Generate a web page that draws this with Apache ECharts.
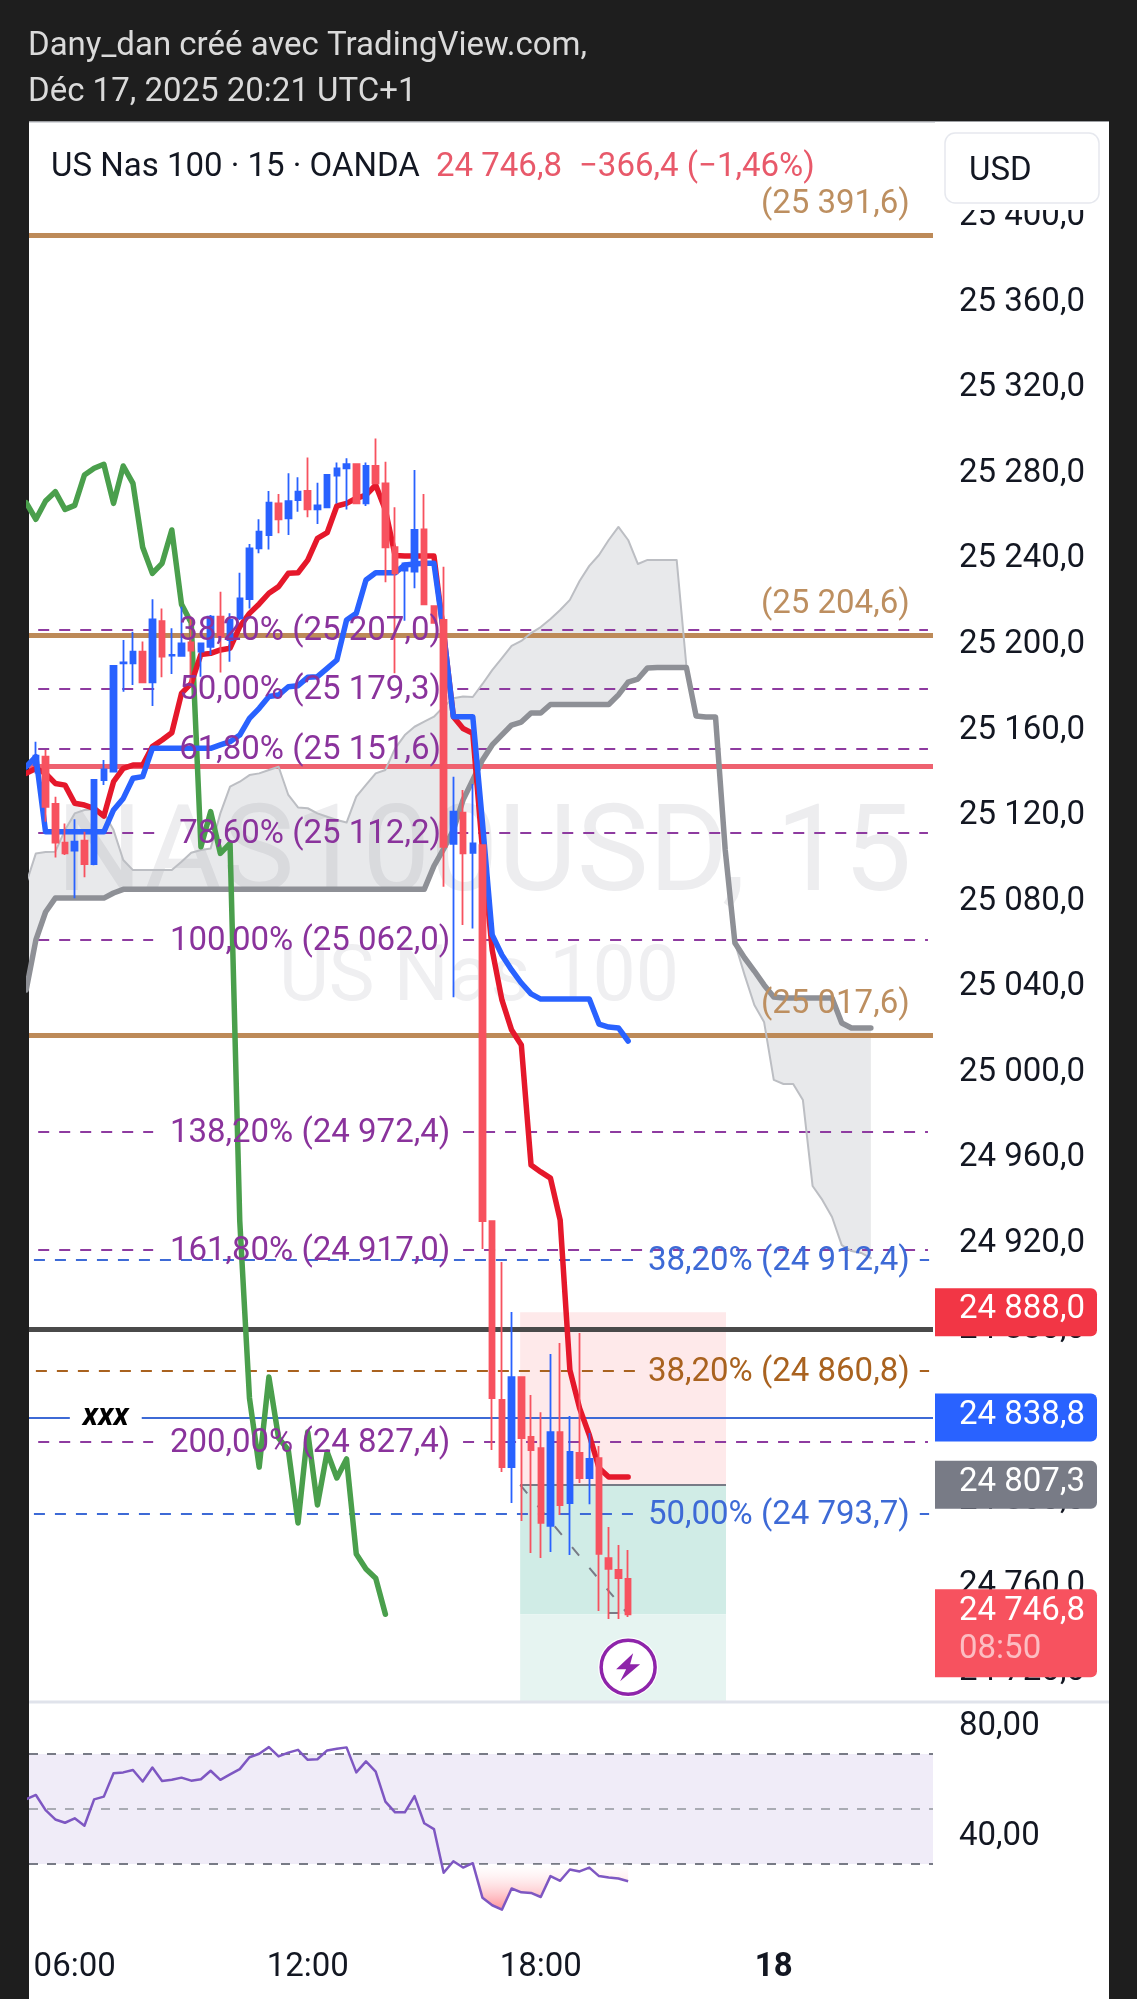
<!DOCTYPE html>
<html><head><meta charset="utf-8">
<script src="https://cdn.jsdelivr.net/npm/echarts@6/dist/echarts.min.js"></script>
<style>html,body{margin:0;padding:0;background:#1e1e1e}#c{width:1137px;height:1999px}</style>
</head><body><div id="c"></div>
<script>
// ---------- data (bars every 0.25 h starting at 04:45 on Dec 17) ----------
const firstBar = 4.75, barStep = 0.25;
const opens = [25150,25143.8,25147.7,25125.6,25107.5,25103.8,25108.4,25097.5,25136.8,25140.7,25191.3,25191.3,25196.8,25182.4,25211.1,25195.0,25194.8,25201.1,25196.8,25199.1,25213.2,25202.2,25212.4,25221.4,25245.1,25251.3,25266.1,25259.1,25267.7,25271.9,25263.3,25264.3,25279.1,25282.5,25284.4,25266.1,25283.6,25275.5,25245.6,25234.7,25234.2,25254.0,25218.1,25211.6,25106.9,25121.5,25102.8,25106.4,24930.6,24847.0,24815.6,24857.7,24829.7,24824.5,24788.1,24832.0,24798.8,24822.2,24810.5,24819.8,24773.1,24767.5,24763.3];
const closes = [25139,25148.2,25124.3,25107.5,25102.5,25108.0,25097.5,25136.8,25141.8,25190.2,25191.8,25196.8,25182.4,25211.9,25194.5,25195.3,25200.7,25197.3,25200.7,25213.2,25203.8,25211.6,25221.7,25245.1,25252.9,25266.5,25258.7,25267.2,25271.6,25263.3,25265.2,25279.4,25282.5,25284.4,25266.1,25283.6,25275.5,25245.6,25233.4,25238.1,25253.7,25218.9,25210.3,25105.6,25122.0,25102.5,25107.2,24930.6,24847.9,24815.6,24857.7,24829.2,24823.6,24789.5,24832.0,24797.9,24822.7,24810.5,24819.4,24775.0,24768.0,24763.7,24746.8];
const lows = [25135,25139.9,25117.3,25100.6,25101.7,25081.5,25091.3,25097.0,25134.5,25140.7,25178.1,25181.2,25182.4,25171.4,25184.8,25186.3,25194.5,25180.4,25185.1,25195.2,25187.1,25192.1,25211.6,25217.0,25242.8,25244.6,25252.1,25251.3,25262.2,25259.6,25256.5,25263.8,25266.1,25263.3,25266.1,25264.9,25275.5,25229.2,25186.7,25211.3,25226.4,25218.9,25210.3,25086.9,25035.3,25069.0,25067.4,24917.6,24823.6,24813.3,24798.8,24790.4,24775.4,24773.1,24775.9,24793.2,24774.5,24808.2,24798.3,24748.3,24744.6,24744.6,24745.5];
const highs = [25155,25154.7,25150.8,25129.0,25116.5,25118.4,25112.6,25136.8,25146.1,25190.2,25202.2,25206.1,25201.5,25221.3,25217.0,25207.7,25217.8,25213.2,25200.7,25213.9,25224.8,25214.7,25233.7,25247.1,25258.7,25271.9,25270.5,25280.2,25278.3,25287.6,25275.8,25279.4,25285.2,25287.2,25284.4,25285.2,25296.5,25285.6,25264.3,25238.1,25281.7,25270.5,25218.1,25236.5,25138.3,25132.1,25134.9,25106.4,24930.6,24911.5,24888.1,24857.7,24849.3,24841.3,24868.5,24873.6,24839.5,24878.3,24831.5,24825.5,24787.6,24779.2,24776.8];
const redLine = [25139.9,25142.2,25139.9,25135.2,25134.4,25125.9,25125.1,25123.5,25119.9,25136.0,25142.2,25143.8,25143.8,25152.4,25155.5,25158.9,25177.3,25182.0,25195.5,25196.0,25197.6,25198.4,25208.5,25214.7,25219.1,25224.1,25227.2,25233.4,25233.7,25239.6,25249.8,25252.4,25264.9,25266.1,25268.5,25270.0,25274.7,25263.0,25241.7,25241.5,25241.5,25241.5,25241.5,25205.4,25166.4,25160.9,25158.6,25104.1,25057.3,25034.0,25019.9,25012.9,24956.8,24953.6,24950.7,24931.1,24861.0,24843.2,24830.6,24815.2,24811.0,24811.0,24811.0];
const blueLine = [25143,25147.7,25112.6,25112.6,25112.6,25112.6,25112.6,25112.6,25112.6,25122.8,25128.2,25137.6,25138.4,25151.6,25151.6,25151.6,25151.6,25151.6,25151.6,25151.6,25153.2,25154.7,25157.8,25165.6,25170.3,25175.8,25176.5,25180.4,25180.9,25184.8,25185.1,25189.0,25192.9,25211.6,25214.7,25230.3,25233.7,25233.7,25233.7,25237.3,25237.8,25238.1,25238.1,25205.4,25166.4,25166.4,25166.4,25116.7,25064.4,25055.0,25048.0,25041.9,25036.8,25034.4,25034.4,25034.4,25034.4,25034.4,25034.4,25022.7,25021.3,25020.9,25014.8];
const greenLine = [25266.5,25258.7,25267.2,25271.6,25263.3,25265.2,25279.4,25282.5,25284.4,25266.1,25283.6,25275.5,25245.6,25233.4,25238.1,25253.7,25218.9,25210.3,25105.6,25122.0,25102.5,25107.2,24930.6,24847.9,24815.6,24857.7,24829.2,24823.6,24789.5,24832.0,24797.9,24822.7,24810.5,24819.4,24775.0,24768.0,24763.7,24746.8];
const spanThin = [25088.5,25102.5,25103.1,25103.3,25113.4,25121.2,25122.8,25123.1,25121.5,25113.4,25099.4,25094.7,25094.7,25094.7,25094.7,25094.7,25098.6,25102.8,25104.1,25104.8,25121.2,25133.7,25136.0,25139.1,25139.9,25141.5,25143.0,25129.8,25124.0,25123.6,25121.2,25119.6,25118.1,25116.9,25129.0,25134.5,25139.9,25141.5,25151.6,25157.8,25161.7,25164.1,25166.4,25171.1,25175.0,25175.8,25175.6,25181.7,25188.2,25193.8,25199.5,25201.8,25205.5,25208.3,25212.1,25216.3,25221.0,25229.8,25236.9,25242.0,25249.0,25255.1,25249.0,25237.8,25239.7,25239.7,25239.7,25239.7,25190.1,25166.7,25166.3,25166.3,25104.1,25060.6,25045.6,25031.6,25023.7,24996.6,24994.7,24994.7,24987.2,24947.0,24940.5,24932.5,24919.4,24916.6,24915.7,24913.3];
const spanThick = [25038.6,25062.0,25075.1,25081.6,25081.6,25081.6,25081.6,25081.6,25081.6,25084.0,25085.7,25085.7,25085.7,25085.7,25085.7,25085.7,25085.7,25085.7,25085.7,25085.7,25085.7,25085.7,25085.7,25085.7,25085.7,25085.7,25085.7,25085.7,25085.7,25085.7,25085.7,25085.7,25085.7,25085.7,25085.7,25085.7,25085.7,25085.7,25085.7,25085.7,25085.7,25085.7,25096.6,25104.6,25113.4,25127.5,25136.8,25146.2,25153.2,25157.9,25162.5,25163.9,25168.1,25168.1,25172.1,25172.1,25172.1,25172.1,25172.1,25172.1,25172.1,25176.6,25182.6,25184.0,25189.2,25189.4,25189.4,25189.4,25189.4,25166.7,25166.3,25166.3,25104.1,25060.6,25053.6,25047.5,25041.0,25035.4,25034.9,25034.9,25034.9,25034.9,25034.9,25034.9,25023.2,25020.9,25020.9,25020.9];
const rsiValues = [53.5,55.1,49.6,46.2,45.0,46.6,43.9,53.5,54.5,63.0,63.3,64.2,60.0,65.1,60.2,60.6,61.4,60.3,60.8,63.9,60.6,62.6,64.5,68.8,70.1,72.5,69.1,70.5,71.5,67.9,68.1,71.3,71.9,72.4,63.3,67.3,63.6,52.7,48.8,48.8,54.7,44.8,42.7,26.8,31.0,28.7,30.3,17.7,15.0,13.4,21.1,19.7,19.5,18.0,25.6,23.9,28.0,27.3,28.7,25.6,25.1,24.7,23.7];
const priceTicks = [25400,25360,25320,25280,25240,25200,25160,25120,25080,25040,25000,24960,24920,24880,24840,24800,24760,24720];
const rsiTicks = [80,40];
const timeTicks = [6,12,18,24];
const timeLabels = {6:'06:00',12:'12:00',18:'18:00',24:'{b|18}'};
const fibPurple = [[25207.0,'38,20% (25 207,0)'],[25179.3,'50,00% (25 179,3)'],[25151.6,'61,80% (25 151,6)'],[25112.2,'78,60% (25 112,2)'],[25062.0,'100,00% (25 062,0)'],[24972.4,'138,20% (24 972,4)'],[24917.0,'161,80% (24 917,0)'],[24827.4,'200,00% (24 827,4)']];
const fibBlue = [[24912.4,'38,20% (24 912,4)'],[24793.7,'50,00% (24 793,7)']];
const fibBrown = [[24860.8,'38,20% (24 860,8)']];
const tanLevels = [[25391.6,'(25 391,6)'],[25204.6,'(25 204,6)'],[25017.6,'(25 017,6)']];
const redLevel = 25143.4, darkLevel = 24880, blueLevel = 24838.8;
const stopPrice = 24888.0, entryPrice = 24807.3, lastPrice = 24746.8;
const priceTags = [[24888.0,'24 888,0','','#F23645'],[24838.8,'24 838,8','','#2962FF'],[24807.3,'24 807,3','','#787B86'],[24746.8,'24 746,8','08:50','#F7525F']];

// ---------- layout ----------
const X0=29, X1=933, PANEL_R=1109, PANE_SPLIT=1702, RSI_B=1931;
const xMin=4.823, xMax=28.10, pMin=24705.8, pMax=25444.4, rMin=5.64, rMax=88.9;
const FONT='Roboto, sans-serif', FS=33;
const tOf = i => firstBar + i*barStep;
const series2 = arr => arr.map((v,i)=>[tOf(i),v]);
const fmtPrice = v => { const s=v.toFixed(1).replace('.',','); return s.slice(0,2)+' '+s.slice(2); };

const candleRows = opens.map((o,i)=>[tOf(i),o,closes[i],lows[i],highs[i]]);
const cloudRows = spanThin.map((v,i)=>[tOf(i),v,spanThick[i]]);
const rsiRows = series2(rsiValues);
const rsiOversold = rsiRows.filter(r=>r[0]>=16.25).map(r=>[r[0],Math.min(r[1],30)]);

const hLine=(t0,t1,v,color,width,dash)=>[{coord:[t0,v],lineStyle:{color,width,type:dash||'solid',cap:'butt'}},{coord:[t1,v]}];
const DASH=[11,10];
const levelLines=[];
tanLevels.forEach(l=>levelLines.push(hLine(xMin,xMax,l[0],'#BD8A58',5)));
levelLines.push(hLine(xMin,xMax,redLevel,'#EE6270',5));
levelLines.push(hLine(xMin,xMax,darkLevel,'#4A4A4A',5));
levelLines.push(hLine(xMin,xMax,blueLevel,'#3D6AD6',2));
fibPurple.forEach(l=>{ const wide=l[1].length>17;
  levelLines.push(hLine(5.06,wide?8.02:8.27,l[0],'#8E3BA0',2,DASH));
  levelLines.push(hLine(wide?16.0:15.85,27.97,l[0],'#8E3BA0',2,DASH));});
fibBlue.forEach(l=>{levelLines.push(hLine(4.95,20.56,l[0],'#3D6AD6',2,DASH));levelLines.push(hLine(27.76,28.0,l[0],'#3D6AD6',2,DASH));});
fibBrown.forEach(l=>{levelLines.push(hLine(5.0,20.56,l[0],'#A9621F',2,DASH));levelLines.push(hLine(27.76,28.0,l[0],'#A9621F',2,DASH));});
// channels
levelLines.push([{coord:[4.805,25191.7],lineStyle:{color:'#3568C8',width:1.6,type:'solid'}},{coord:[11.0,25297.2]}]);
levelLines.push([{coord:[4.805,25123.9],lineStyle:{color:'#8E3BA0',width:1.6,type:'solid'}},{coord:[13.0,25297.2]}]);
// position tool
levelLines.push(hLine(17.47,22.77,entryPrice,'#787B86',2));
levelLines.push([{coord:[17.47,entryPrice],lineStyle:{color:'#787B86',width:2,type:[11,16]}},{coord:[20.25,lastPrice]}]);
levelLines.push(hLine(19.75,20.0,lastPrice+0.5,'#787B86',2));

const labelRows=[];
fibPurple.forEach(l=>labelRows.push([12.06,l[0],l[1],'#8A339C','center',0]));
fibBlue.forEach(l=>labelRows.push([27.5,l[0],l[1],'#3D6AD6','right',0]));
fibBrown.forEach(l=>labelRows.push([27.5,l[0],l[1],'#A9621F','right',0]));
tanLevels.forEach(l=>labelRows.push([27.5,l[0],l[1],'#BD8F60','right',-32]));

const lineS=(name,data,color,width,z)=>({name,type:'line',xAxisIndex:0,yAxisIndex:0,data,showSymbol:false,symbol:'none',z,silent:true,animation:false,
  lineStyle:{color,width,cap:'round',join:'round'}});

const txt=(text,x,y,font,fill,z,extra)=>({type:'text',z:z||20,silent:true,style:Object.assign({text,x,y:y+2,font,fill,verticalAlign:'middle'},extra||{})});
const F=FS+'px '+FONT;

const option={
 animation:false,
 backgroundColor:'#1e1e1e',
 grid:[{left:X0,top:122,width:X1-X0,height:PANE_SPLIT-122},{left:X0,top:PANE_SPLIT,width:X1-X0,height:RSI_B-PANE_SPLIT}],
 xAxis:[
  {type:'value',gridIndex:0,min:xMin,max:xMax,axisLine:{show:false},axisTick:{show:false},axisLabel:{show:false},splitLine:{show:false}},
  {type:'value',gridIndex:1,min:xMin,max:xMax,axisLine:{show:false},axisTick:{show:false,customValues:timeTicks},splitLine:{show:false},
   axisLabel:{customValues:timeTicks,margin:20,fontFamily:'Roboto',fontSize:FS,color:'#131722',formatter:v=>timeLabels[v]||'',hideOverlap:false,
     rich:{b:{fontFamily:'Roboto',fontSize:FS,fontWeight:'bold',color:'#131722'}}}}
 ],
 yAxis:[
  {type:'value',gridIndex:0,position:'right',min:pMin,max:pMax,axisLine:{show:false},axisTick:{show:false,customValues:priceTicks},splitLine:{show:false},
   axisLabel:{customValues:priceTicks,margin:26,fontFamily:'Roboto',fontSize:FS,color:'#131722',padding:[0,0,6,0],formatter:fmtPrice,hideOverlap:false}},
  {type:'value',gridIndex:1,position:'right',min:rMin,max:rMax,axisLine:{show:false},axisTick:{show:false,customValues:rsiTicks},splitLine:{show:false},
   axisLabel:{customValues:rsiTicks,margin:26,fontFamily:'Roboto',fontSize:FS,color:'#131722',padding:[0,0,6,0],formatter:v=>v.toFixed(2).replace('.',','),hideOverlap:false}}
 ],
 graphic:{elements:[
  {type:'rect',z:-10,silent:true,shape:{x:X0,y:122,width:PANEL_R-X0,height:1999-122},style:{fill:'#fff'}},
  {type:'line',z:-9,silent:true,shape:{x1:X0,y1:122,x2:PANEL_R,y2:122},style:{stroke:'#C9CBD0',lineWidth:1.5}},
  {type:'line',z:9,silent:true,shape:{x1:X0,y1:PANE_SPLIT,x2:PANEL_R,y2:PANE_SPLIT},style:{stroke:'#E0E3EB',lineWidth:3}},
  txt('NAS100USD, 15',484,858,'121px '+FONT,'#EDEDEF',-5,{align:'center'}),
  txt('US Nas 100',479,979,'77px '+FONT,'#EFEFF1',-5,{align:'center'}),
  txt('Dany_dan créé avec TradingView.com,',28,44.5,F,'#DADADA'),
  txt('Déc 17, 2025 20:21 UTC+1',28,91,F,'#DADADA'),
  txt('US Nas 100 · 15 · OANDA',51,165.5,F,'#131722'),
  txt('24 746,8',436,165.5,F,'#E8596A'),
  txt('−366,4 (−1,46%)',579,165.5,F,'#E8596A'),
  {type:'rect',z:9,silent:true,shape:{x:935,y:122,width:PANEL_R-935,height:88},style:{fill:'#fff'}},
  {type:'rect',z:10,silent:true,shape:{x:945,y:133,width:154,height:70,r:10},style:{fill:'#fff',stroke:'#E6E8EE',lineWidth:1.5}},
  txt('USD',969,169.5,F,'#131722',11)
 ]},
 series:[
  {name:'Levels',type:'line',xAxisIndex:0,yAxisIndex:0,data:[],z:2,silent:true,animation:false,
   markArea:{silent:true,z:1,animation:false,data:[
    [{coord:[17.47,stopPrice],itemStyle:{color:'#FEE9EA'}},{coord:[22.77,entryPrice]}],
    [{coord:[17.47,entryPrice],itemStyle:{color:'#D0ECE6'}},{coord:[22.77,lastPrice]}],
    [{coord:[17.47,lastPrice],itemStyle:{color:'#E6F4F1'}},{coord:[22.77,pMin]}]]},
   markLine:{silent:true,z:2,animation:false,symbol:'none',label:{show:false},data:levelLines}},
  {name:'Cloud',type:'custom',xAxisIndex:0,yAxisIndex:0,z:1,silent:true,clip:true,data:cloudRows,encode:{x:0,y:[1,2]},
   renderItem:(p,api)=>{ if(p.dataIndex!==0) return null;
     const top=cloudRows.map(r=>api.coord([r[0],r[1]])), bot=cloudRows.map(r=>api.coord([r[0],r[2]])).reverse();
     return {type:'polygon',shape:{points:top.concat(bot)},style:{fill:'rgba(120,123,134,0.17)'}}; }},
  lineS('Span A',series2(spanThin),'#BCBEC3',2,3),
  lineS('Span B',series2(spanThick),'#8E9096',5.5,3),
  lineS('Green',series2(greenLine),'#4A9F4C',5.5,3),
  lineS('Red',series2(redLine),'#E5182B',5.5,3),
  lineS('Blue',series2(blueLine),'#2962FF',5.5,3),
  {name:'US Nas 100',type:'candlestick',xAxisIndex:0,yAxisIndex:0,data:candleRows,encode:{x:0,y:[1,2,3,4]},barWidth:6,z:4,silent:true,animation:false,
   itemStyle:{color:'#2962FF',color0:'#F7525F',borderColor:'#2962FF',borderColor0:'#F7525F',borderWidth:1.8}},
  {name:'Level labels',type:'custom',xAxisIndex:0,yAxisIndex:0,z:5,silent:true,data:labelRows.map((r,i)=>[r[0],r[1],i]),encode:{x:0,y:1},
   renderItem:(p,api)=>{ const r=labelRows[p.dataIndex]; const c=api.coord([r[0],r[1]]);
     return {type:'text',style:{text:r[2],x:c[0],y:c[1]+r[5]+2,font:F,fill:r[3],align:r[4],verticalAlign:'middle'}}; }},
  {name:'Alert label',type:'custom',xAxisIndex:0,yAxisIndex:0,z:5,silent:true,data:[[6.8,blueLevel]],encode:{x:0,y:1},
   renderItem:(p,api)=>{ const c=api.coord([api.value(0),api.value(1)]);
     return {type:'text',style:{text:'xxx',x:c[0],y:c[1],font:'italic bold 31px '+FONT,fill:'#000',align:'center',verticalAlign:'middle',backgroundColor:'#fff',padding:[0,13,0,13]}}; }},
  {name:'Price tags',type:'custom',xAxisIndex:0,yAxisIndex:0,z:8,silent:true,data:priceTags.map((r,i)=>[xMax,r[0],i]),encode:{x:0,y:1},
   renderItem:(p,api)=>{ const r=priceTags[p.dataIndex]; const c=api.coord([xMax,r[0]]); const x=935,w=162;
     const tall=!!r[2]; const h=tall?88:48; const yt=c[1]-(tall?25:24);
     const kids=[{type:'rect',shape:{x,y:yt,width:w,height:h,r:[0,6,6,0]},style:{fill:r[3]},z2:1},
       {type:'text',style:{text:r[1],x:x+24,y:yt+(tall?22:22),font:F,fill:'#fff',verticalAlign:'middle'},z2:2}];
     if(tall) kids.push({type:'text',style:{text:r[2],x:x+24,y:yt+60,font:F,fill:'rgba(255,255,255,0.62)',verticalAlign:'middle'},z2:2});
     return {type:'group',children:kids}; }},
  {name:'Live icon',type:'custom',xAxisIndex:0,yAxisIndex:0,z:6,silent:true,data:[[20.25,24722.1]],encode:{x:0,y:1},
   renderItem:(p,api)=>{ const c=api.coord([api.value(0),api.value(1)]); const s=1;
     return {type:'group',x:c[0],y:c[1],children:[
       {type:'circle',shape:{cx:0,cy:0,r:30},style:{fill:'#fff'}},
       {type:'circle',shape:{cx:0,cy:0,r:27},style:{fill:'#fff',stroke:'#8E24AA',lineWidth:3.5},z2:1},
       {type:'polygon',shape:{points:[[5*s,-14*s],[-12*s,2*s],[-2*s,2*s],[-8*s,14*s],[12*s,-3*s],[2*s,-3*s]]},style:{fill:'#8E24AA'},z2:2}]}; }},
  {name:'RSI bands',type:'line',xAxisIndex:1,yAxisIndex:1,data:[],z:1,silent:true,animation:false,
   markArea:{silent:true,z:1,animation:false,itemStyle:{color:'#F0ECF8'},data:[[{yAxis:70},{yAxis:30}]]},
   markLine:{silent:true,z:2,animation:false,symbol:'none',label:{show:false},data:[
     {yAxis:70,lineStyle:{color:'#787B86',width:2,type:[9,9]}},
     {yAxis:50,lineStyle:{color:'#A9ABB3',width:2,type:[9,9]}},
     {yAxis:30,lineStyle:{color:'#787B86',width:2,type:[9,9]}}]}},
  {name:'RSI oversold',type:'line',xAxisIndex:1,yAxisIndex:1,data:rsiOversold,showSymbol:false,symbol:'none',z:3,silent:true,animation:false,
   lineStyle:{width:0,opacity:0},areaStyle:{origin:30,opacity:1,color:{type:'linear',x:0,y:0,x2:0,y2:1,colorStops:[{offset:0,color:'rgba(255,255,255,0.2)'},{offset:1,color:'#FF8F98'}]}}},
  {name:'RSI',type:'line',xAxisIndex:1,yAxisIndex:1,data:rsiRows,showSymbol:false,symbol:'none',z:4,silent:true,animation:false,
   lineStyle:{color:'#7E57C2',width:2.5,join:'round'}}
 ]
};
const chart=echarts.init(document.getElementById('c'),null,{width:1137,height:1999,devicePixelRatio:1});
chart.setOption(option);
</script></body></html>
